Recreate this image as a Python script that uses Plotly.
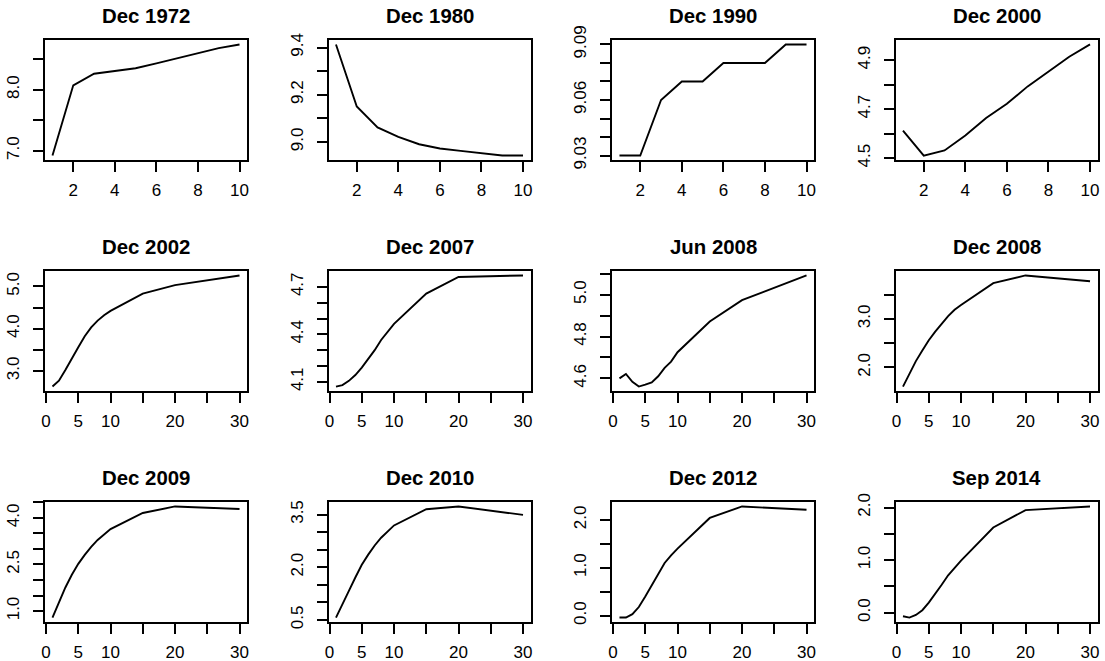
import plotly.graph_objects as go

# Yield curves: maturity (years) vs. yield (%)
titles = ["Dec 1972", "Dec 1980", "Dec 1990", "Dec 2000",
          "Dec 2002", "Dec 2007", "Jun 2008", "Dec 2008",
          "Dec 2009", "Dec 2010", "Dec 2012", "Sep 2014"]

mat_short = [1, 2, 3, 4, 5, 6, 7, 8, 9, 10]
mat_long = [1, 2, 3, 4, 5, 6, 7, 8, 9, 10, 15, 20, 30]

dec1972 = [6.92, 8.07, 8.26, 8.30, 8.35, 8.43, 8.51, 8.60, 8.68, 8.74]
dec1980 = [9.413, 9.15, 9.061, 9.021, 8.99, 8.972, 8.962, 8.953, 8.942, 8.942]
dec1990 = [9.03, 9.03, 9.06, 9.07, 9.07, 9.08, 9.08, 9.08, 9.09, 9.09]
dec2000 = [4.613, 4.511, 4.532, 4.593, 4.664, 4.722, 4.793, 4.855, 4.914, 4.964]

dec2002 = [2.63, 2.77, 3.02, 3.30, 3.56, 3.82, 4.03, 4.19, 4.32, 4.42, 4.83, 5.03, 5.26]
dec2007 = [4.07, 4.079, 4.106, 4.143, 4.19, 4.244, 4.30, 4.364, 4.417, 4.466, 4.657, 4.762, 4.772]
jun2008 = [4.60, 4.621, 4.584, 4.561, 4.57, 4.581, 4.61, 4.65, 4.68, 4.725, 4.872, 4.974, 5.092]
dec2008 = [1.604, 1.87, 2.13, 2.35, 2.56, 2.74, 2.91, 3.06, 3.19, 3.29, 3.74, 3.90, 3.78]

dec2009 = [0.79, 1.27, 1.76, 2.17, 2.52, 2.81, 3.07, 3.29, 3.48, 3.64, 4.16, 4.37, 4.29]
dec2010 = [0.57, 0.93, 1.33, 1.71, 2.07, 2.36, 2.62, 2.84, 3.03, 3.19, 3.65, 3.73, 3.49]
dec2012 = [-0.04, -0.04, 0.03, 0.18, 0.40, 0.64, 0.87, 1.10, 1.26, 1.40, 2.04, 2.28, 2.21]
sep2014 = [-0.07, -0.094, -0.045, 0.046, 0.19, 0.35, 0.53, 0.71, 0.86, 0.99, 1.62, 1.95, 2.02]

series = [dec1972, dec1980, dec1990, dec2000,
          dec2002, dec2007, jun2008, dec2008,
          dec2009, dec2010, dec2012, sep2014]

# Tick positions and labels (unlabelled ticks have empty text)
xt_short = [2, 4, 6, 8, 10]
xl_short = ["2", "4", "6", "8", "10"]
xt_long = [0, 5, 10, 15, 20, 25, 30]
xl_long = ["0", "5", "10", "", "20", "", "30"]

ytick_vals = [
    [7.0, 7.5, 8.0, 8.5],
    [9.0, 9.1, 9.2, 9.3, 9.4],
    [9.03, 9.04, 9.05, 9.06, 9.07, 9.08, 9.09],
    [4.5, 4.6, 4.7, 4.8, 4.9],
    [3.0, 3.5, 4.0, 4.5, 5.0],
    [4.1, 4.2, 4.3, 4.4, 4.5, 4.6, 4.7],
    [4.6, 4.7, 4.8, 4.9, 5.0, 5.1],
    [2.0, 2.5, 3.0, 3.5],
    [1.0, 1.5, 2.0, 2.5, 3.0, 3.5, 4.0, 4.5],
    [0.5, 1.0, 1.5, 2.0, 2.5, 3.0, 3.5],
    [0.0, 0.5, 1.0, 1.5, 2.0],
    [0.0, 0.5, 1.0, 1.5, 2.0],
]
ytick_text = [
    ["7.0", "", "8.0", ""],
    ["9.0", "", "9.2", "", "9.4"],
    ["9.03", "", "", "9.06", "", "", "9.09"],
    ["4.5", "", "4.7", "", "4.9"],
    ["3.0", "", "4.0", "", "5.0"],
    ["4.1", "", "", "4.4", "", "", "4.7"],
    ["4.6", "", "4.8", "", "5.0", ""],
    ["2.0", "", "3.0", ""],
    ["1.0", "", "", "2.5", "", "", "4.0", ""],
    ["0.5", "", "", "2.0", "", "", "3.5"],
    ["0.0", "", "1.0", "", "2.0"],
    ["0.0", "", "1.0", "", "2.0"],
]

W, H = 1105, 661
box_w, box_h = 202, 120
col_left = [45, 328.5, 612, 895.5]
row_top = [40, 271, 502]

FONT = "Liberation Sans, Arial, Helvetica, sans-serif"
LW = 1.9


def padded(vals):
    lo, hi = min(vals), max(vals)
    pad = 0.04 * (hi - lo)
    return [lo - pad, hi + pad]


fig = go.Figure()
layout = dict(
    template="none",
    width=W, height=H,
    margin=dict(l=0, r=0, t=0, b=0, pad=0, autoexpand=False),
    paper_bgcolor="white", plot_bgcolor="white",
    showlegend=False,
    annotations=[],
)

for i, (title, ys) in enumerate(zip(titles, series)):
    r, c = divmod(i, 4)
    xs = mat_short if r == 0 else mat_long
    n = i + 1
    xname = "x" if n == 1 else f"x{n}"
    yname = "y" if n == 1 else f"y{n}"
    fig.add_trace(go.Scatter(
        x=xs, y=ys, mode="lines",
        line=dict(color="black", width=LW),
        xaxis=xname, yaxis=yname, hoverinfo="skip",
    ))

    x0 = col_left[c]
    y0 = row_top[r]
    xdom = [x0 / W, (x0 + box_w) / W]
    ydom = [1 - (y0 + box_h) / H, 1 - y0 / H]

    common = dict(
        showline=True, linecolor="black", linewidth=LW, mirror=True,
        ticks="outside", ticklen=10, tickwidth=LW, tickcolor="black",
        showgrid=False, zeroline=False, automargin=False,
        tickfont=dict(family=FONT, size=17, color="black"),
        fixedrange=True,
    )
    layout["xaxis" if n == 1 else f"xaxis{n}"] = dict(
        common, domain=xdom, anchor=yname, range=padded(xs),
        tickmode="array",
        tickvals=xt_short if r == 0 else xt_long,
        ticktext=xl_short if r == 0 else xl_long,
        tickangle=0, ticklabelstandoff=4,
    )
    layout["yaxis" if n == 1 else f"yaxis{n}"] = dict(
        common, domain=ydom, anchor=xname, range=padded(ys),
        tickmode="array",
        tickvals=ytick_vals[i], ticktext=ytick_text[i],
        tickangle=-90, ticklabelstandoff=7,
    )
    layout["annotations"].append(dict(
        text=f"<b>{title}</b>", xref="paper", yref="paper",
        x=(x0 + box_w / 2) / W, y=1 - (y0 - 24) / H,
        xanchor="center", yanchor="middle", showarrow=False,
        font=dict(family=FONT, size=20.4, color="black"),
    ))

fig.update_layout(**layout)
fig.write_html("out.html")
